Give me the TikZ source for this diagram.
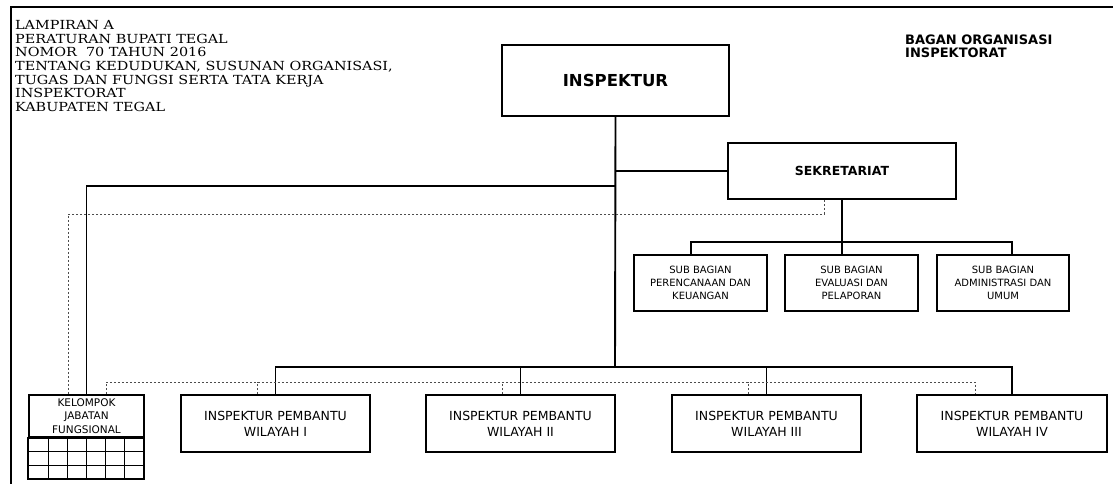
\documentclass[tikz,border=0pt]{standalone}
\usepackage{fontspec}
\setmainfont{DejaVu Sans}
\newfontfamily\serifhead[FakeStretch=1.15]{DejaVu Serif}
\usetikzlibrary{positioning}

\begin{document}
\begin{tikzpicture}[x=1pt, y=-1pt,
    box/.style={draw, line width=1.9pt, align=center, inner sep=0pt},
    subbox/.style={box, minimum width=133pt, minimum height=56pt, font=\fontsize{10}{13}\selectfont},
    ipbox/.style={box, minimum width=189pt, minimum height=57pt, font=\fontsize{12.5}{16}\selectfont},
    link/.style={line width=1.9pt},
    dotlink/.style={draw=gray!60!black, line width=1pt, dash pattern=on 2.5pt off 1.5pt}]
    \useasboundingbox (0,0) rectangle (1113,484);

    % frame
    \draw [line width=2.6pt] (11,484)--(11,7)--(1113,7);

    % heading
    \node (lamp) [anchor=north west, align=left, inner sep=0pt,
        font=\serifhead\fontsize{12.5}{13.7}\selectfont] at (15,20)
        {LAMPIRAN A\\PERATURAN BUPATI TEGAL\\NOMOR\ \ 70 TAHUN 2016\\
         TENTANG KEDUDUKAN, SUSUNAN ORGANISASI,\\TUGAS DAN FUNGSI SERTA TATA KERJA\\
         INSPEKTORAT\\KABUPATEN TEGAL};
    \node (judul) [anchor=north west, align=left, inner sep=0pt,
        font=\bfseries\fontsize{13}{13}\selectfont] at (905,35)
        {BAGAN ORGANISASI\\INSPEKTORAT};

    % top boxes
    \node (insp) [box, minimum width=227pt, minimum height=71pt,
        font=\bfseries\fontsize{16.5}{19}\selectfont] at (615.5,80.5) {INSPEKTUR};
    \node (sekr) [box, minimum width=228pt, minimum height=56pt,
        font=\bfseries\fontsize{12.5}{15}\selectfont] at (842,171) {SEKRETARIAT};

    % sub bagian
    \node (sub1) [subbox] at (700.5,283) {SUB BAGIAN\\PERENCANAAN DAN\\KEUANGAN};
    \node (sub2) [subbox] at (851.5,283) {SUB BAGIAN\\EVALUASI DAN\\PELAPORAN};
    \node (sub3) [subbox, minimum width=132pt] at (1003,283) {SUB BAGIAN\\ADMINISTRASI DAN\\UMUM};

    % inspektur pembantu
    \node (ip1) [ipbox] at (275.5,423.5) {INSPEKTUR PEMBANTU\\WILAYAH I};
    \node (ip2) [ipbox] at (520.5,423.5) {INSPEKTUR PEMBANTU\\WILAYAH II};
    \node (ip3) [ipbox] at (766.5,423.5) {INSPEKTUR PEMBANTU\\WILAYAH III};
    \node (ip4) [ipbox, minimum width=190pt] at (1012,423.5) {INSPEKTUR PEMBANTU\\WILAYAH IV};

    % kelompok jabatan fungsional
    \node (jf) [box, minimum width=115pt, minimum height=42pt,
        font=\fontsize{10.5}{13.5}\selectfont] at (86.5,416) {KELOMPOK\\JABATAN\\FUNGSIONAL};
    \draw [line width=1.9pt] (jf.south west) rectangle (144,479);
    \foreach \gx in {48.2,67.3,86.5,105.7,124.8}
        \draw [line width=1pt] (\gx,437) -- (\gx,479);
    \foreach \gy in {451,465}
        \draw [line width=1pt] (29,\gy) -- (144,\gy);

    % bus points
    \coordinate (busS) at (615,171);
    \coordinate (busA) at (615,186);
    \coordinate (busC) at (842,242);
    \coordinate (busB) at (615,367);
    \coordinate (dsA) at (824,214);
    \coordinate (dsB) at (106,382);

    % stems off the centre
    \coordinate (s1top) at ([xshift=-9.5pt]sub1.north);
    \coordinate (s3top) at ([xshift=9pt]sub3.north);
    \coordinate (sekrd) at ([xshift=-18pt]sekr.south);
    \coordinate (jfd1) at ([xshift=-18.5pt]jf.north);
    \coordinate (jfd2) at ([xshift=19.5pt]jf.north);
    \coordinate (ip1d) at ([xshift=-18.5pt]ip1.north);
    \coordinate (ip2d) at ([xshift=-18pt]ip2.north);
    \coordinate (ip3d) at ([xshift=-18pt]ip3.north);
    \coordinate (ip4d) at ([xshift=-37pt]ip4.north);

    % solid lines
    \draw [link] (insp.south) -- (busB);
    \draw [link] (busS) -- (sekr.west);
    \draw [link] (busA) -| (jf.north);
    \draw [link] (sekr.south) -- (sub2.north -| sekr.south);
    \draw [link] (s1top) -- (s1top |- busC) -- (s3top |- busC) -- (s3top);
    \draw [link] (ip1.north) -- (ip1.north |- busB) -- (ip4.north |- busB) -- (ip4.north);
    \draw [link] (ip2.north) -- (ip2.north |- busB);
    \draw [link] (ip3.north) -- (ip3.north |- busB);

    % dashed lines
    \draw [dotlink] (sekrd) -- (sekrd |- dsA) -| (jfd1);
    \draw [dotlink] (jfd2) -- (dsB) -- (ip4d |- dsB) -- (ip4d);
    \draw [dotlink] (ip1d) -- (ip1d |- dsB);
    \draw [dotlink] (ip2d) -- (ip2d |- dsB);
    \draw [dotlink] (ip3d) -- (ip3d |- dsB);
\end{tikzpicture}
\end{document}
